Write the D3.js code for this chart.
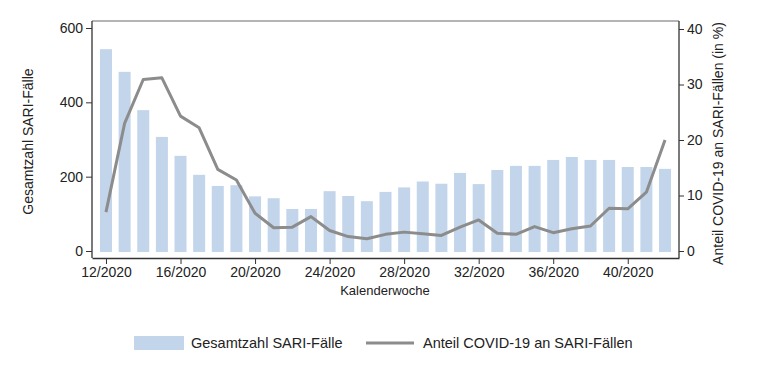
<!DOCTYPE html>
<html>
<head>
<meta charset="utf-8">
<script src="https://cdn.jsdelivr.net/npm/d3@7"></script>
<style>
  body { margin: 0; background: #fff; }
  text { font-family: "Liberation Sans", Arial, sans-serif; fill: #222; }
</style>
</head>
<body>
<script>
// Kalenderwochen 12..42 / 2020
const weeks = d3.range(12, 43);
const sariCases = [543, 482, 379, 307, 256, 205, 175, 177, 147, 142, 113, 113, 161, 148, 134, 159,
                   171, 187, 181, 210, 180, 218, 229, 229, 245, 253, 245, 245, 226, 226, 221];
const covidShare = [7.0, 23.0, 30.9, 31.2, 24.3, 22.2, 14.7, 12.8, 6.8, 4.2, 4.3, 6.2, 3.7, 2.6, 2.2, 3.0,
                    3.4, 3.1, 2.8, 4.3, 5.6, 3.2, 3.0, 4.4, 3.3, 4.0, 4.5, 7.7, 7.6, 10.6, 20.0];
const xTicks = [12, 16, 20, 24, 28, 32, 36, 40];
const leftTicks = [0, 200, 400, 600];
const rightTicks = [0, 10, 20, 30, 40];

const W = 764, H = 371;
const frame = {left: 92, right: 679, top: 21, bottom: 258};

const svg = d3.select("body").append("svg")
    .attr("width", W)
    .attr("height", H);

const x = d3.scaleLinear().domain([11.25, 42.75]).range([frame.left, frame.right]);
const yL = d3.scaleLinear().domain([0, 600]).range([251, 28]);
const yR = d3.scaleLinear().domain([0, 40]).range([251, 29]);

// frame top line
svg.append("line")
    .attr("x1", frame.left).attr("x2", frame.right)
    .attr("y1", frame.top).attr("y2", frame.top)
    .attr("stroke", "#6a6a6a").attr("stroke-width", 1.2);

// bars
svg.append("g").selectAll("rect")
    .data(weeks)
  .enter().append("rect")
    .attr("x", (d) => x(d) - 6)
    .attr("width", 12)
    .attr("y", (d, i) => yL(sariCases[i]))
    .attr("height", (d, i) => yL(0) - yL(sariCases[i]) + 1)
    .attr("fill", "#c3d5ea");

// line
const line = d3.line()
    .x((d) => x(d))
    .y((d, i) => yR(covidShare[i]));
svg.append("path")
    .datum(weeks)
    .attr("d", line)
    .attr("fill", "none")
    .attr("stroke", "#8c8c8c")
    .attr("stroke-width", 3)
    .attr("stroke-linejoin", "round");

// axes
function styleAxis(g) {
  g.selectAll("path.domain").attr("stroke", "#333").attr("stroke-width", 1.3);
  g.selectAll(".tick line").attr("stroke", "#333");
  g.selectAll(".tick text").style("font-size", "14px")
    .style("font-family", "'Liberation Sans', Arial, sans-serif").attr("fill", "#222");
}

const xAxis = svg.append("g")
    .attr("transform", `translate(0,${frame.bottom})`)
    .call(d3.axisBottom(x).tickValues(xTicks).tickFormat((d) => d + "/2020")
      .tickSizeInner(6).tickSizeOuter(0).tickPadding(3))
    .call(styleAxis);

const leftAxis = svg.append("g")
    .attr("transform", `translate(${frame.left},0)`)
    .call(d3.axisLeft(yL).tickValues(leftTicks).tickSizeInner(6).tickSizeOuter(0).tickPadding(3))
    .call(styleAxis);
leftAxis.select("path.domain").attr("d", `M0,${frame.top}V${frame.bottom}`);

const rightAxis = svg.append("g")
    .attr("transform", `translate(${frame.right},0)`)
    .call(d3.axisRight(yR).tickValues(rightTicks).tickSizeInner(5).tickSizeOuter(0).tickPadding(3))
    .call(styleAxis);
rightAxis.select("path.domain").attr("d", `M0,${frame.top}V${frame.bottom}`);

// axis titles
svg.append("text")
    .attr("transform", `translate(33,${(frame.top + frame.bottom) / 2 + 2}) rotate(-90)`)
    .attr("text-anchor", "middle")
    .style("font-size", "14px")
    .text("Gesamtzahl SARI-Fälle");

svg.append("text")
    .attr("transform", `translate(723,${(frame.top + frame.bottom) / 2 + 4}) rotate(-90)`)
    .attr("text-anchor", "middle")
    .style("font-size", "14px")
    .text("Anteil COVID-19 an SARI-Fällen (in %)");

svg.append("text")
    .attr("x", 385).attr("y", 295)
    .attr("text-anchor", "middle")
    .style("font-size", "13px")
    .text("Kalenderwoche");

// legend
const legend = svg.append("g");
legend.append("rect")
    .attr("x", 134).attr("y", 336)
    .attr("width", 50).attr("height", 14)
    .attr("fill", "#c3d5ea");
legend.append("text")
    .attr("x", 191).attr("y", 348)
    .style("font-size", "14.5px")
    .text("Gesamtzahl SARI-Fälle");
legend.append("line")
    .attr("x1", 366).attr("x2", 414)
    .attr("y1", 343).attr("y2", 343)
    .attr("stroke", "#8c8c8c").attr("stroke-width", 3);
legend.append("text")
    .attr("x", 423).attr("y", 348)
    .style("font-size", "14.5px")
    .text("Anteil COVID-19 an SARI-Fällen");
</script>
</body>
</html>
